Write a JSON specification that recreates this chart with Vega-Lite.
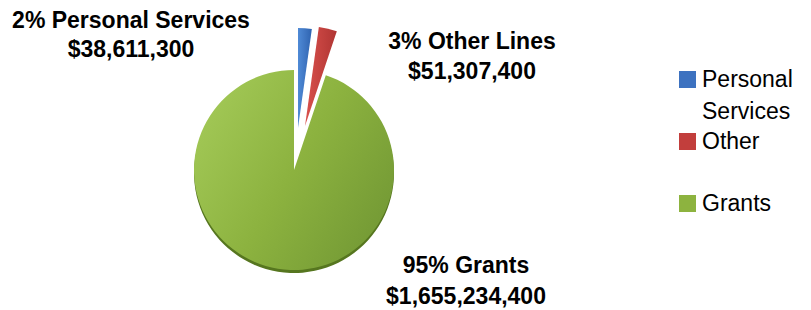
{
  "$schema": "https://vega.github.io/schema/vega-lite/v6.json",
  "width": 588,
  "height": 280,
  "autosize": {"type": "none"},
  "padding": {"left": 0, "top": 30, "right": 223, "bottom": 0},
  "background": "white",
  "config": {"view": {"stroke": null}, "font": "Liberation Sans", "style": {"guide-label": {"lineHeight": 32}}},
  "data": {
    "values": [
      {"category": "Personal Services", "label": "Personal Services", "amount": 38611300, "order": 1},
      {"category": "Other", "label": "Other Lines", "amount": 51307400, "order": 2},
      {"category": "Grants", "label": "Grants", "amount": 1655234400, "order": 3}
    ]
  },
  "transform": [
    {"stack": "amount", "groupby": [], "offset": "normalize", "sort": [{"field": "order"}], "as": ["t0", "t1"]},
    {"joinaggregate": [{"op": "sum", "field": "amount", "as": "total"}]},
    {"calculate": "format(datum.amount/datum.total,'.0%') + ' ' + datum.label + '\\n' + format(datum.amount,'$,')", "as": "text"}
  ],
  "layer": [
    {
      "mark": {"type": "arc", "outerRadius": 0},
      "encoding": {
        "theta": {"field": "t0", "type": "quantitative", "scale": {"domain": [0, 1]}},
        "theta2": {"field": "t1"},
        "color": {
          "field": "category",
          "type": "nominal",
          "scale": {"domain": ["Personal Services", "Other", "Grants"], "range": ["#3d72c0", "#c23e3c", "#8db33f"]},
          "legend": {
            "title": null,
            "orient": "none",
            "legendX": 676,
            "legendY": 38,
            "padding": 0,
            "symbolType": "square",
            "symbolSize": 289,
            "symbolStrokeWidth": 0,
            "symbolOpacity": 1,
            "labelFontSize": 23,
            "labelFont": "Liberation Sans",
            "labelColor": "#000000",
            "labelOffset": 3,
            "labelLimit": 0,
            "labelBaseline": "middle",
            "rowPadding": 6,
            "labelExpr": "datum.label == 'Personal Services' ? ['Personal', 'Services'] : [datum.label, ' ']"
          }
        }
      }
    },
    {
      "transform": [{"filter": "datum.category === 'Grants'"}],
      "mark": {"type": "arc", "outerRadius": 100, "fill": "#56761f", "yOffset": 3},
      "encoding": {"theta": {"field": "t0", "type": "quantitative", "scale": {"domain": [0, 1]}}, "theta2": {"field": "t1"}}
    },
    {
      "transform": [{"filter": "datum.category === 'Grants'"}],
      "mark": {
        "type": "arc",
        "outerRadius": 100,
        "fill": {"gradient": "linear", "x1": 0, "y1": 0.2, "x2": 1, "y2": 0.8, "stops": [{"offset": 0, "color": "#a3c957"}, {"offset": 0.5, "color": "#8cb23f"}, {"offset": 1, "color": "#729834"}]}
      },
      "encoding": {"theta": {"field": "t0", "type": "quantitative", "scale": {"domain": [0, 1]}}, "theta2": {"field": "t1"}}
    },
    {
      "transform": [{"filter": "datum.category === 'Personal Services'"}],
      "mark": {
        "type": "arc",
        "outerRadius": 100,
        "xOffset": 4,
        "yOffset": -42,
        "fill": {"gradient": "linear", "x1": 0, "y1": 0, "x2": 1, "y2": 0, "stops": [{"offset": 0, "color": "#4f8ad6"}, {"offset": 1, "color": "#2f63b0"}]}
      },
      "encoding": {"theta": {"field": "t0", "type": "quantitative", "scale": {"domain": [0, 1]}}, "theta2": {"field": "t1"}}
    },
    {
      "transform": [{"filter": "datum.category === 'Other'"}],
      "mark": {
        "type": "arc",
        "outerRadius": 100,
        "xOffset": 11,
        "yOffset": -44,
        "fill": {"gradient": "linear", "x1": 0, "y1": 0, "x2": 1, "y2": 0, "stops": [{"offset": 0, "color": "#d9504c"}, {"offset": 1, "color": "#b03533"}]}
      },
      "encoding": {"theta": {"field": "t0", "type": "quantitative", "scale": {"domain": [0, 1]}}, "theta2": {"field": "t1"}}
    },
    {
      "transform": [{"filter": "datum.category === 'Personal Services'"}],
      "mark": {"type": "text", "align": "center", "baseline": "alphabetic", "lineBreak": "\n", "lineHeight": 29, "fontSize": 23, "fontWeight": "bold", "font": "Liberation Sans", "color": "#000000", "dx": -163, "dy": -142},
      "encoding": {"text": {"field": "text"}}
    },
    {
      "transform": [{"filter": "datum.category === 'Other'"}],
      "mark": {"type": "text", "align": "center", "baseline": "alphabetic", "lineBreak": "\n", "lineHeight": 30, "fontSize": 23, "fontWeight": "bold", "font": "Liberation Sans", "color": "#000000", "dx": 178, "dy": -121},
      "encoding": {"text": {"field": "text"}}
    },
    {
      "transform": [{"filter": "datum.category === 'Grants'"}],
      "mark": {"type": "text", "align": "center", "baseline": "alphabetic", "lineBreak": "\n", "lineHeight": 31, "fontSize": 23, "fontWeight": "bold", "font": "Liberation Sans", "color": "#000000", "dx": 172, "dy": 103},
      "encoding": {"text": {"field": "text"}}
    }
  ]
}
